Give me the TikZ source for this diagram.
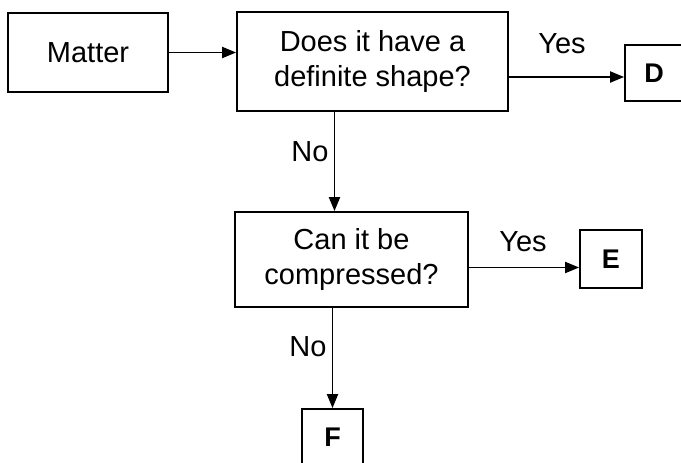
\documentclass[tikz,border=0pt]{standalone}
\usepackage{fontspec}
\setmainfont{Liberation Sans}
\usetikzlibrary{arrows.meta}
\begin{document}
\begin{tikzpicture}[x=1pt,y=-1pt,
  box/.style={draw, line width=1.8pt, rectangle, inner sep=0pt, align=center,
    font=\fontsize{29}{35}\selectfont},
  letterbox/.style={draw, line width=1.8pt, rectangle, inner sep=0pt,
    font=\fontsize{27}{30}\selectfont\bfseries},
  arr/.style={line width=1.9pt, -{Triangle[length=14pt,width=11pt]}},
  lbl/.style={font=\fontsize{29}{35}\selectfont, inner sep=0pt}]
\clip (0,0) rectangle (681,463);
\fill[white] (0,0) rectangle (681,463);
\node[box, minimum width=160pt, minimum height=79pt] (matter) at (88,52.5) {Matter};
\node[box, minimum width=271pt, minimum height=99pt] (q1) at (372.5,61.5) {Does it have a\\definite shape?};
\node[letterbox, minimum width=58pt, minimum height=56pt] (d) at (654,73) {D};
\node[box, minimum width=233pt, minimum height=95pt] (q2) at (351.5,259.5) {Can it be\\compressed?};
\node[letterbox, minimum width=62pt, minimum height=58pt] (e) at (611,259) {E};
\node[letterbox, minimum width=61pt, minimum height=56pt] (f) at (332.5,437) {F};
\draw[arr] (matter.east) -- (matter.east -| q1.west);
\draw[arr] ([yshift=-4pt]q1.east |- d.west) -- ([yshift=-4pt]d.west);
\draw[arr] ([xshift=-38pt]q1.south) -- ([xshift=-38pt]q1.south |- q2.north);
\draw[arr] ([yshift=-8pt]q2.east) -- ([yshift=-8pt]q2.east -| e.west);
\draw[arr] (f.north |- q2.south) -- (f.north);
\node[lbl] (yes1) at (562,44) {Yes};
\node[lbl] (no1) at (310,152) {No};
\node[lbl] (yes2) at (523,242) {Yes};
\node[lbl] (no2) at (308,347) {No};
\end{tikzpicture}
\end{document}
